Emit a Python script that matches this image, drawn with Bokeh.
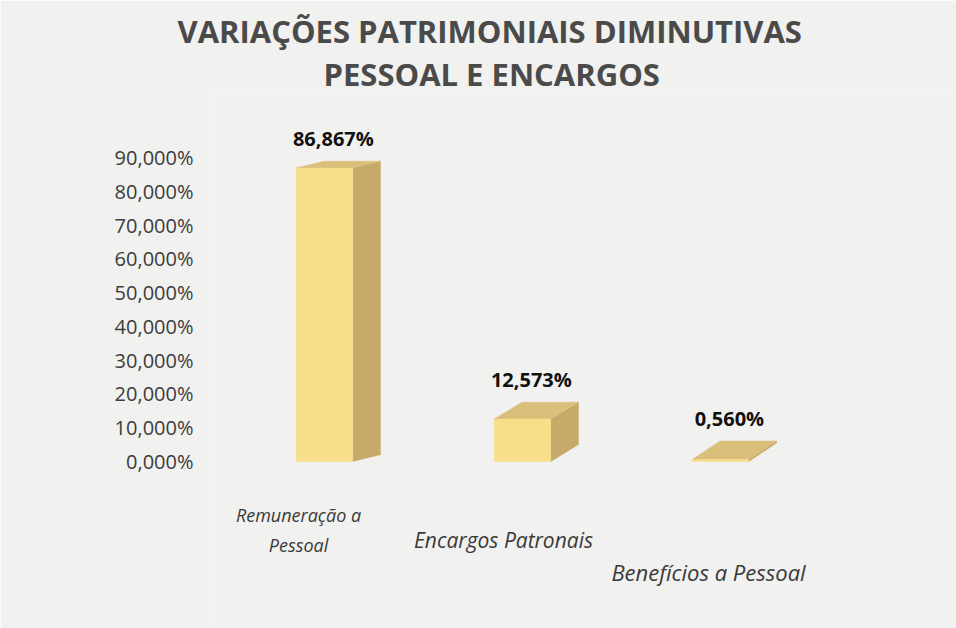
from bokeh.plotting import figure
from bokeh.models import Range1d, FixedTicker, ColumnDataSource, Title
from bokeh.core.properties import value
from bokeh.embed import file_html
from bokeh.resources import INLINE

# ---- data ----
categories = ["Remuneração a Pessoal", "Encargos Patronais", "Benefícios a Pessoal"]
cat_lines = [["Remuneração a", "Pessoal"], ["Encargos Patronais"], ["Benefícios a Pessoal"]]
values = [86.867, 12.573, 0.560]
value_labels = ["86,867%", "12,573%", "0,560%"]
y_ticks = [0, 10, 20, 30, 40, 50, 60, 70, 80, 90]
y_tick_labels = ["0,000%", "10,000%", "20,000%", "30,000%", "40,000%",
                 "50,000%", "60,000%", "70,000%", "80,000%", "90,000%"]
title_lines = ["VARIAÇÕES PATRIMONIAIS DIMINUTIVAS", "PESSOAL E ENCARGOS"]

# ---- style ----
BG = "#f1f1ef"
FRONT = "#f7de88"
SIDE = "#c5aa6a"
TOP = "#d9bf7a"
FONT = "Open Sans"

W, H = 956, 628
p = figure(width=W, height=H, output_backend="svg", toolbar_location=None,
           x_range=Range1d(-0.5859, 3.1919), y_range=Range1d(-49.44, 108.35),
           x_axis_location=None, min_border_left=208, min_border_right=0,
           min_border_top=95, min_border_bottom=0)
p.background_fill_color = BG
p.border_fill_color = BG
p.outline_line_color = None
p.xgrid.visible = False
p.ygrid.visible = False

ax = p.yaxis[0]
ax.ticker = FixedTicker(ticks=y_ticks)
ax.major_label_overrides = {t: l for t, l in zip(y_ticks, y_tick_labels)}
ax.axis_line_color = None
ax.major_tick_line_color = None
ax.minor_tick_line_color = None
ax.major_tick_out = 0
ax.major_tick_in = 0
ax.major_label_standoff = 15
ax.major_label_text_font = FONT
ax.major_label_text_font_size = "20px"
ax.major_label_text_color = "#3c3c3c"

# ---- 3D bars built from the values ----
w = 0.285   # front face width (x units)
dx = 0.14   # depth offset in x
xs_f, ys_f, xs_s, ys_s, xs_t, ys_t, tops = [], [], [], [], [], [], []
for i, v in enumerate(values):
    dz = 1.5 + 0.04 * (100 - v)   # perspective: lower tops show more of their top face
    l, r = i - w / 2, i + w / 2
    xs_f.append([l, r, r, l]); ys_f.append([0, 0, v, v])
    xs_s.append([r, r + dx, r + dx, r]); ys_s.append([0, dz, v + dz, v])
    xs_t.append([l, r, r + dx, l + dx]); ys_t.append([v, v, v + dz, v + dz])
    tops.append(v + dz)

p.patches(xs_s, ys_s, fill_color=SIDE, line_color=SIDE, line_width=0.5)
p.patches(xs_t, ys_t, fill_color=TOP, line_color=TOP, line_width=0.5)
p.patches(xs_f, ys_f, fill_color=FRONT, line_color=FRONT, line_width=0.5)

# value labels
src = ColumnDataSource(dict(x=[i + dx / 2 for i in range(len(values))],
                            y=tops, t=value_labels))
p.text("x", "y", text="t", source=src, text_align="center", text_baseline="bottom",
       x_offset=-5, y_offset=-9, text_font=value(FONT), text_font_style="bold",
       text_font_size="20px", text_color="#111111")

# category labels (staggered like the photographed perspective)
x_offs = [-26, -19, -12]
y_offs = [[54, 84], [79], [111]]
sizes = ["18px", "21px", "22px"]
for i, lines in enumerate(cat_lines):
    for j, line in enumerate(lines):
        p.text([i], [0], text=[line], text_align="center", text_baseline="middle",
               x_offset=x_offs[i], y_offset=y_offs[i][j], text_font=value(FONT),
               text_font_style="italic", text_font_size=sizes[i], text_color="#3a3a3a")

# title: two lines above the frame (nearest line added first)
title_offsets = [-31, 115]
title_standoffs = [-4, 2]
for k in (1, 0):
    p.add_layout(Title(text=title_lines[k], align="left", offset=title_offsets[k],
                       text_font=FONT, text_font_style="bold", text_font_size="31px",
                       text_color="#4a4a4a", standoff=title_standoffs[k]), "above")

open("out.html", "w").write(file_html(p, INLINE))
